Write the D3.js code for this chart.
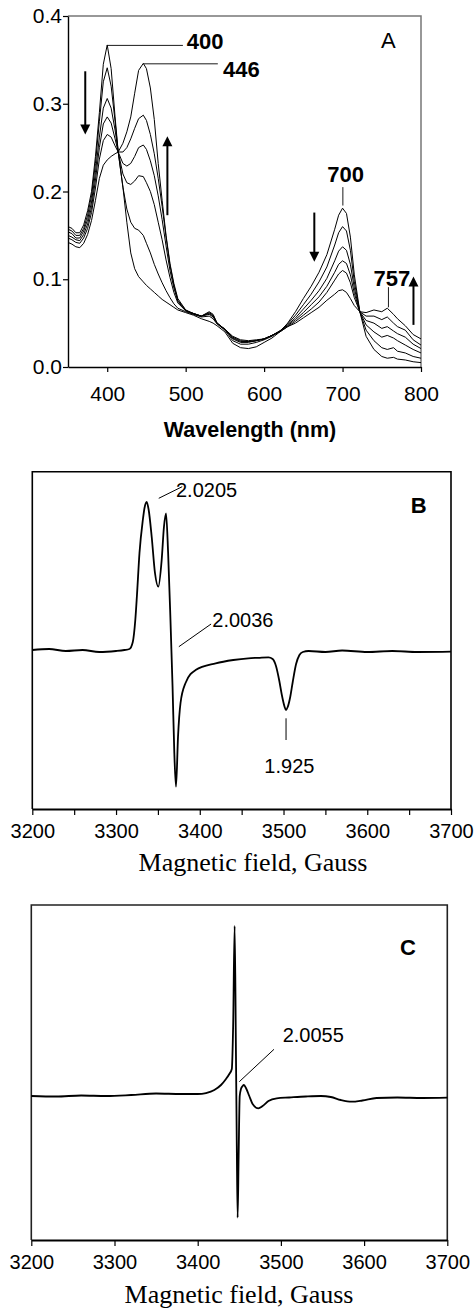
<!DOCTYPE html>
<html>
<head>
<meta charset="utf-8">
<script src="https://cdn.jsdelivr.net/npm/d3@7"></script>
<style>
body { margin: 0; background: #fff; }
svg { display: block; }
</style>
</head>
<body>
<div id="chart"></div>
<script>
const svgWidth = 474
const svgHeight = 1309

// panel A - absorbance spectra
const wavelengths = [350,355,360,365,370,375,380,385,390,395,400,405,410,414,420,425,430,435,440,446,450,455,460,465,470,475,480,485,490,500,510,520,530,535,540,550,560,570,580,590,600,610,620,630,640,650,660,670,680,690,695,700,705,710,715,722,730,740,750,757,765,770,780,790,800]
const spectrum0 = [0.160,0.158,0.153,0.153,0.162,0.178,0.200,0.240,0.290,0.345,0.367,0.340,0.285,0.245,0.205,0.165,0.130,0.112,0.103,0.097,0.093,0.089,0.085,0.081,0.077,0.074,0.071,0.068,0.065,0.062,0.059,0.055,0.052,0.050,0.047,0.040,0.027,0.022,0.021,0.023,0.028,0.033,0.040,0.050,0.063,0.078,0.092,0.108,0.128,0.157,0.173,0.181,0.175,0.148,0.105,0.063,0.035,0.020,0.012,0.010,0.011,0.009,0.008,0.006,0.005]
const spectrum1 = [0.157,0.155,0.150,0.150,0.158,0.173,0.195,0.232,0.280,0.325,0.341,0.320,0.280,0.245,0.205,0.180,0.165,0.158,0.156,0.150,0.141,0.130,0.117,0.106,0.096,0.087,0.079,0.072,0.067,0.063,0.060,0.057,0.058,0.055,0.049,0.042,0.030,0.026,0.026,0.028,0.031,0.035,0.041,0.049,0.059,0.071,0.083,0.097,0.114,0.139,0.153,0.160,0.155,0.133,0.097,0.063,0.042,0.030,0.022,0.020,0.022,0.018,0.016,0.012,0.010]
const spectrum2 = [0.154,0.152,0.147,0.147,0.155,0.168,0.188,0.222,0.262,0.295,0.306,0.295,0.270,0.245,0.220,0.210,0.208,0.212,0.218,0.217,0.210,0.200,0.185,0.165,0.145,0.122,0.102,0.085,0.073,0.064,0.061,0.058,0.060,0.057,0.050,0.043,0.032,0.028,0.028,0.030,0.032,0.036,0.041,0.048,0.056,0.066,0.076,0.087,0.101,0.121,0.132,0.137,0.133,0.117,0.090,0.063,0.048,0.040,0.034,0.036,0.033,0.030,0.025,0.020,0.016]
const spectrum3 = [0.150,0.148,0.145,0.144,0.151,0.163,0.182,0.213,0.250,0.277,0.285,0.278,0.260,0.245,0.232,0.229,0.232,0.240,0.250,0.253,0.248,0.235,0.218,0.195,0.168,0.138,0.110,0.090,0.075,0.064,0.061,0.058,0.061,0.058,0.050,0.043,0.033,0.029,0.029,0.030,0.032,0.036,0.041,0.047,0.054,0.062,0.071,0.080,0.092,0.108,0.117,0.121,0.118,0.105,0.084,0.063,0.053,0.050,0.044,0.046,0.041,0.038,0.034,0.026,0.021]
const spectrum4 = [0.147,0.145,0.142,0.141,0.147,0.158,0.176,0.204,0.237,0.258,0.265,0.262,0.252,0.245,0.245,0.250,0.260,0.272,0.283,0.287,0.281,0.265,0.243,0.215,0.183,0.148,0.116,0.093,0.076,0.065,0.061,0.058,0.062,0.059,0.050,0.043,0.034,0.030,0.029,0.030,0.032,0.036,0.040,0.046,0.052,0.059,0.066,0.074,0.085,0.099,0.106,0.110,0.107,0.096,0.079,0.063,0.058,0.058,0.054,0.057,0.050,0.046,0.042,0.031,0.025]
const spectrum5 = [0.142,0.140,0.137,0.136,0.141,0.151,0.167,0.190,0.215,0.230,0.236,0.240,0.243,0.245,0.255,0.268,0.285,0.312,0.338,0.346,0.340,0.318,0.282,0.232,0.190,0.150,0.118,0.095,0.078,0.065,0.060,0.058,0.063,0.060,0.050,0.043,0.035,0.031,0.030,0.031,0.032,0.036,0.040,0.046,0.050,0.056,0.062,0.068,0.076,0.083,0.087,0.088,0.085,0.078,0.070,0.063,0.062,0.065,0.063,0.067,0.060,0.055,0.047,0.037,0.032]
const spectra = [spectrum0, spectrum1, spectrum2, spectrum3, spectrum4, spectrum5]
const absTicks = [0.0, 0.1, 0.2, 0.3, 0.4]
const wlTicks = [400, 500, 600, 700, 800]

// panel B - EPR spectrum (arbitrary units, baseline = 0)
const fieldB = [3200,3220,3240,3260,3280,3300,3310,3316,3320,3323,3325,3328,3332,3334,3336.6,3339,3342.6,3346.5,3350.5,3354.5,3357.2,3359.7,3362.2,3365,3367.5,3369.6,3371.6,3374,3377,3383,3395,3419,3440,3458,3470,3482,3487,3491,3495,3498,3501,3503,3505,3508,3511,3515,3519,3523,3530,3550,3570,3600,3630,3660,3700]
const signalB = [0.00,0.01,-0.01,0.00,-0.02,-0.01,0.00,0.01,0.08,0.30,0.55,0.97,1.30,1.42,1.48,1.40,1.13,0.77,0.633,0.90,1.23,1.367,0.97,0.30,-0.37,-1.03,-1.367,-0.87,-0.53,-0.33,-0.20,-0.133,-0.10,-0.083,-0.078,-0.073,-0.09,-0.16,-0.31,-0.45,-0.56,-0.60,-0.57,-0.47,-0.32,-0.14,-0.05,-0.02,-0.01,-0.02,-0.005,-0.02,-0.01,-0.02,-0.017]

// panel C - EPR spectrum
const fieldC = [3200,3230,3260,3290,3320,3350,3380,3400,3410,3420,3428,3434,3438,3441,3442.6,3444.4,3446,3447,3448,3449.2,3450.5,3452,3454,3455.6,3458,3462,3466,3472.8,3478,3485,3495,3510,3530,3548,3560,3572,3585,3598,3615,3640,3670,3700]
const signalC = [0.00,-0.005,0.005,0.00,0.01,0.025,0.02,0.02,0.03,0.06,0.11,0.17,0.22,0.27,0.70,1.70,0.40,-0.50,-1.217,-0.60,0.00,0.07,0.10,0.11,0.08,0.00,-0.08,-0.123,-0.10,-0.05,-0.023,-0.015,-0.005,0.00,-0.01,-0.04,-0.057,-0.045,-0.02,-0.015,-0.02,-0.017]

const fieldTicks = [3200, 3300, 3400, 3500, 3600, 3700]
const fieldMinorTicks = [3250, 3350, 3450, 3550, 3650]

const sans = "'Liberation Sans', Arial, sans-serif"
const serif = "'Liberation Serif', 'Times New Roman', serif"

const svg = d3.select("#chart")
	.append("svg")
	.attr("width", svgWidth)
	.attr("height", svgHeight)
	.style("font-family", sans)

function styleAxis(g, size) {
	g.attr("font-size", null).attr("font-family", null)
	g.select(".domain").attr("stroke", "#000").attr("stroke-width", 1.4)
	g.selectAll(".tick line").attr("stroke", "#000").attr("stroke-width", 1.2)
	g.selectAll(".tick text").attr("fill", "#000").style("font-size", size + "px").style("font-family", sans)
}

function arrow(g, x, yFrom, yTip) {
	const dir = yTip > yFrom ? 1 : -1
	g.append("line")
		.attr("x1", x).attr("x2", x)
		.attr("y1", yFrom).attr("y2", yTip - dir * 8)
		.attr("stroke", "#000").attr("stroke-width", 2)
	g.append("path")
		.attr("d", `M${x - 5},${yTip - dir * 10}L${x + 5},${yTip - dir * 10}L${x},${yTip}Z`)
		.attr("fill", "#000")
}

// ---------- panel A ----------
const xA = d3.scaleLinear().domain([350, 800]).range([68, 421])
const yA = d3.scaleLinear().domain([0, 0.4]).range([367, 16])
const gA = svg.append("g")

gA.append("path")
	.attr("d", `M${xA(350)},${yA(0.4)}H${xA(800)}V${yA(0)}`)
	.attr("fill", "none").attr("stroke", "#777").attr("stroke-width", 1.5)

gA.append("g")
	.attr("transform", `translate(0,${yA(0)})`)
	.call(d3.axisBottom(xA).tickValues(wlTicks).tickSize(5).tickSizeOuter(0).tickPadding(14))
	.call(g => styleAxis(g, 21))

gA.append("g")
	.attr("transform", `translate(${xA(350)},0)`)
	.call(d3.axisLeft(yA).tickValues(absTicks).tickFormat(d3.format(".1f")).tickSize(5).tickSizeOuter(0).tickPadding(1))
	.call(g => styleAxis(g, 21))

const lineA = d3.line()
	.x((v, i) => xA(wavelengths[i]))
	.y(v => yA(v))

gA.selectAll("path.spec")
	.data(spectra)
	.join("path")
	.attr("class", "spec")
	.attr("d", lineA)
	.attr("fill", "none")
	.attr("stroke", "#000")
	.attr("stroke-width", 1)

// peak labels
gA.append("line").attr("x1", xA(400)).attr("x2", xA(496.5)).attr("y1", yA(0.3665)).attr("y2", yA(0.3665)).attr("stroke", "#000").attr("stroke-width", 0.9)
gA.append("line").attr("x1", xA(446)).attr("x2", xA(541)).attr("y1", yA(0.3455)).attr("y2", yA(0.3455)).attr("stroke", "#000").attr("stroke-width", 0.9)
gA.append("line").attr("x1", xA(700.4)).attr("x2", xA(700.4)).attr("y1", yA(0.205)).attr("y2", yA(0.184)).attr("stroke", "#000").attr("stroke-width", 0.9)
gA.append("line").attr("x1", xA(758.5)).attr("x2", xA(758.5)).attr("y1", yA(0.091)).attr("y2", yA(0.068)).attr("stroke", "#000").attr("stroke-width", 0.9)

const peakLabels = gA.append("g").attr("font-weight", "bold").style("font-size", "22px")
peakLabels.append("text").attr("x", xA(501.5)).attr("y", yA(0.3625)).text("400")
peakLabels.append("text").attr("x", xA(547.5)).attr("y", yA(0.331)).text("446")
peakLabels.append("text").attr("x", xA(704)).attr("y", yA(0.2105)).attr("text-anchor", "middle").text("700")
peakLabels.append("text").attr("x", xA(763)).attr("y", yA(0.0925)).attr("text-anchor", "middle").text("757")

gA.append("text").attr("x", 381).attr("y", 48).style("font-size", "22px").text("A")

arrow(gA, xA(372), yA(0.337), yA(0.265))
arrow(gA, xA(476.7), yA(0.173), yA(0.263))
arrow(gA, xA(664), yA(0.176), yA(0.12))
arrow(gA, xA(790.4), yA(0.048), yA(0.103))

gA.append("text")
	.attr("x", 250).attr("y", 437)
	.attr("text-anchor", "middle")
	.attr("font-weight", "bold")
	.style("font-size", "21.5px")
	.text("Wavelength (nm)")

// ---------- EPR panels ----------
function eprPanel(opts) {
	const g = svg.append("g")
	const x = d3.scaleLinear().domain([3200, 3700]).range(opts.xRange)
	const y = d3.scaleLinear().domain(opts.yDomain).range(opts.yRange)

	g.append("path")
		.attr("d", `M${x(3200)},${y.range()[0]}V${y.range()[1]}H${x(3700)}V${y.range()[0]}`)
		.attr("fill", "none").attr("stroke", opts.frame).attr("stroke-width", 1.6)

	const ax = g.append("g")
		.attr("transform", `translate(0,${y.range()[0]})`)
		.call(d3.axisBottom(x).tickValues(fieldTicks).tickFormat(d3.format("d")).tickSize(6).tickSizeOuter(0).tickPadding(opts.pad))
		.call(ax => styleAxis(ax, 20))
	ax.select(".domain").attr("stroke-width", 1.8)

	if (opts.minor) {
		g.append("g")
			.attr("transform", `translate(0,${y.range()[0]})`)
			.call(d3.axisBottom(x).tickValues(fieldMinorTicks).tickFormat("").tickSize(6).tickSizeOuter(0))
			.call(ax => { ax.select(".domain").remove(); ax.selectAll("line").attr("stroke", "#000").attr("stroke-width", 1.2) })
	}

	const line = d3.line()
		.x((v, i) => x(opts.field[i]))
		.y(v => y(v))
		.curve(d3.curveMonotoneX)

	g.append("path")
		.datum(opts.signal)
		.attr("d", line)
		.attr("fill", "none")
		.attr("stroke", "#000")
		.attr("stroke-width", 1.8)

	g.append("text")
		.attr("x", opts.titleX).attr("y", opts.titleY)
		.attr("text-anchor", "middle")
		.style("font-family", serif)
		.style("font-size", "26px")
		.text("Magnetic field, Gauss")

	return { g, x, y }
}

// panel B
const B = eprPanel({
	xRange: [32.3, 451], yDomain: [-1.59, 1.783], yRange: [809, 471.7],
	field: fieldB, signal: signalB, frame: "#000", minor: true, pad: 9,
	titleX: 253, titleY: 871
})
B.g.append("line").attr("x1", B.x(3351)).attr("y1", 498.3).attr("x2", B.x(3379)).attr("y2", 486.7).attr("stroke", "#000")
B.g.append("text").attr("x", 176).attr("y", 496.7).style("font-size", "20px").text("2.0205")
B.g.append("line").attr("x1", B.x(3375)).attr("y1", 646.7).attr("x2", B.x(3413.5)).attr("y2", 624).attr("stroke", "#000")
B.g.append("text").attr("x", 212.3).attr("y", 627.3).style("font-size", "20px").text("2.0036")
B.g.append("line").attr("x1", B.x(3503)).attr("y1", 718.3).attr("x2", B.x(3503)).attr("y2", 740).attr("stroke", "#000")
B.g.append("text").attr("x", B.x(3507)).attr("y", 773.3).attr("text-anchor", "middle").style("font-size", "20px").text("1.925")
B.g.append("text").attr("x", 410.7).attr("y", 512.7).attr("font-weight", "bold").style("font-size", "22px").text("B")

// panel C
const C = eprPanel({
	xRange: [31.3, 447.3], yDomain: [-1.44, 1.91], yRange: [1240, 905],
	field: fieldC, signal: signalC, frame: "#222", minor: false, pad: 9,
	titleX: 239, titleY: 1303
})
C.g.append("line").attr("x1", C.x(3450)).attr("y1", 1081.7).attr("x2", C.x(3491.7)).attr("y2", 1049.3).attr("stroke", "#000")
C.g.append("text").attr("x", 282.7).attr("y", 1041.7).style("font-size", "20px").text("2.0055")
C.g.append("text").attr("x", 400).attr("y", 955).attr("font-weight", "bold").style("font-size", "22px").text("C")
</script>
</body>
</html>
